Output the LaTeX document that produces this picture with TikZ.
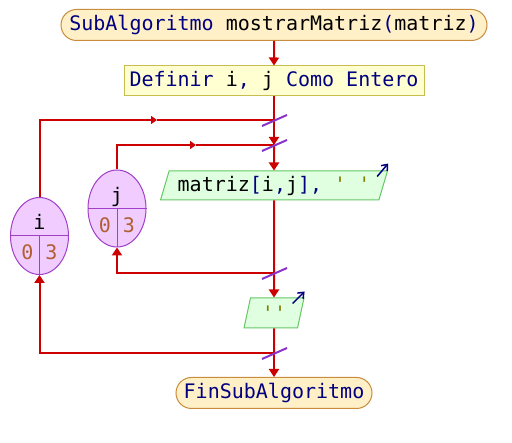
\documentclass[tikz,border=0pt]{standalone}
\usepackage{fontspec}
\setmonofont{DejaVu Sans Mono}
\usetikzlibrary{shapes.misc,shapes.geometric,arrows.meta}
\definecolor{linered}{RGB}{204,0,0}
\definecolor{slashpurple}{RGB}{136,51,204}
\definecolor{termfill}{RGB}{255,240,200}
\definecolor{termline}{RGB}{200,140,60}
\definecolor{deffill}{RGB}{255,255,210}
\definecolor{defline}{RGB}{200,190,80}
\definecolor{iofill}{RGB}{224,255,224}
\definecolor{ioline}{RGB}{100,200,100}
\definecolor{loopfill}{RGB}{240,204,255}
\definecolor{loopline}{RGB}{160,64,200}
\definecolor{kwblue}{RGB}{0,0,128}
\definecolor{strolive}{RGB}{128,128,0}
\definecolor{numbrown}{RGB}{176,96,48}
\newcommand{\kw}[1]{\textcolor{kwblue}{#1}}
\newcommand{\str}[1]{\textcolor{strolive}{#1}}
\newcommand{\num}[1]{\textcolor{numbrown}{#1}}
\tikzset{
  flow/.style={draw=linered, line width=2pt, -{Triangle[width=10pt,length=8pt]}},
  midflow/.style={draw=linered, line width=2pt, -{Triangle[width=8pt,length=6pt]}},
  line/.style={draw=linered, line width=2pt},
  slash/.style={draw=slashpurple, line width=2pt},
  outarrow/.style={draw=kwblue, line width=1.5pt, -{Straight Barb[width=8pt,length=5pt]}},
  terminal/.style={rounded rectangle, draw=termline, fill=termfill, line width=1pt, minimum height=31pt, inner sep=0pt},
  defbox/.style={rectangle, draw=defline, fill=deffill, line width=1pt, minimum height=30pt, inner sep=0pt},
  iobox/.style={trapezium, trapezium left angle=66, trapezium right angle=114, trapezium stretches body=true, draw=ioline, fill=iofill, line width=1pt, inner sep=0pt},
  loopnode/.style={ellipse, draw=loopline, fill=loopfill, line width=1pt, minimum width=58pt, minimum height=77pt, inner sep=0pt}
}
\begin{document}
\begin{tikzpicture}[x=1pt,y=-1pt,font=\ttfamily\fontsize{20}{24}\selectfont]
\useasboundingbox (0,0) rectangle (512,443);
% nodes
\node[terminal, minimum width=426pt] (start) at (274,25) {\kw{SubAlgoritmo} mostrarMatriz\kw{(}matriz\kw{)}};
\node[defbox, minimum width=300pt] (def) at (274,81) {\kw{Definir} i\kw{,} j \kw{Como Entero}};
\node[iobox, minimum width=227pt, minimum height=29pt] (out1) at (274,185.5) {matriz\kw{[}i\kw{,}j\kw{],} \str{' '}};
\node[iobox, minimum width=60pt, minimum height=30pt] (out2) at (274,313) {\str{''}};
\node[terminal, minimum width=196pt] (fin) at (274,393) {\kw{FinSubAlgoritmo}};
\node[loopnode] (loopi) at (39.5,236) {};
\node[loopnode] (loopj) at (117,208.5) {};
\coordinate (o1) at (274,120); \coordinate (o2) at (274,145);
\coordinate (o3) at (274,273); \coordinate (o4) at (274,353);
\coordinate (m1) at (157,120); \coordinate (m2) at (196,145);
% loop counters
\foreach \v in {i,j} {
  \draw[loopline, line width=1pt] (loop\v.west) -- (loop\v.east) (loop\v.center) -- (loop\v.south);
  \node[anchor=base] at ([yshift=6pt]loop\v.center) {\v};
  \node[anchor=base] at ([xshift=-12pt,yshift=-24pt]loop\v.center) {\num{0}};
  \node[anchor=base] at ([xshift=12pt,yshift=-24pt]loop\v.center) {\num{3}};
}
% main flow
\draw[flow] (start) -- (def);
\draw[line] (def) -- (o1);
\draw[flow] (o1) -- (o2);
\draw[flow] (o2) -- (out1.north);
\draw[line] (out1.south) -- (o3);
\draw[flow] (o3) -- (out2.north);
\draw[line] (out2.south) -- (o4);
\draw[flow] (o4) -- (fin);
% loops
\draw[midflow] (loopi.north) |- (m1); \draw[line] (m1) -- (o1);
\draw[midflow] (loopj.north) |- (m2); \draw[line] (m2) -- (o2);
\draw[flow] (o3) -| (loopj.south);
\draw[flow] (o4) -| (loopi.south);
\foreach \c in {o1,o2,o3,o4} \draw[slash] (\c) +(-12,6) -- +(13,-5);
% output marks
\draw[outarrow] (out1.top right corner) +(-11,6) -- +(0,-7);
\draw[outarrow] (out2.top right corner) +(-12,6) -- +(0,-6);
\end{tikzpicture}
\end{document}
